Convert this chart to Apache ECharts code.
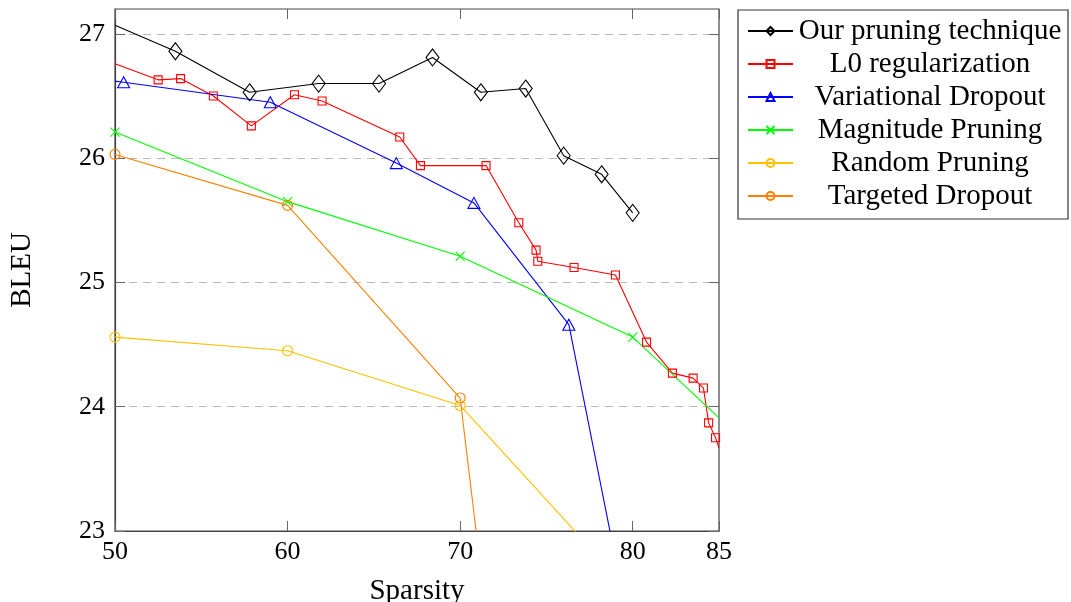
<!DOCTYPE html>
<html>
<head>
<meta charset="utf-8">
<script src="https://cdn.jsdelivr.net/npm/echarts@6/dist/echarts.min.js"></script>
<style>
  html, body { margin: 0; padding: 0; background: #fff; }
  #chart { width: 1071px; height: 602px; }
</style>
</head>
<body>
<div id="chart"></div>
<script>
// values (sparsity in %, BLEU)
const ourX = [50, 53.5, 57.8, 61.8, 65.3, 68.4, 71.2, 73.8, 76.0, 78.2, 80.0];
const ourY = [27.07, 26.86, 26.53, 26.60, 26.60, 26.81, 26.53, 26.56, 26.02, 25.87, 25.56];

const l0X = [50, 52.5, 53.8, 55.7, 57.9, 60.4, 62.0, 66.5, 67.7, 71.5, 73.4, 74.4, 74.5, 76.6, 79.0, 80.8, 82.3, 83.5, 84.1, 84.4, 84.8, 85];
const l0Y = [26.76, 26.63, 26.64, 26.50, 26.26, 26.51, 26.46, 26.17, 25.94, 25.94, 25.48, 25.26, 25.17, 25.12, 25.06, 24.52, 24.27, 24.23, 24.15, 23.87, 23.75, 23.67];

const vdX = [50, 50.5, 59.0, 66.3, 70.8, 76.3, 80];
const vdY = [26.62, 26.61, 26.45, 25.96, 25.64, 24.66, 22.08];

const magX = [50, 60, 70, 80, 85];
const magY = [26.21, 25.65, 25.21, 24.56, 23.91];

const randX = [50, 60, 70, 80];
const randY = [24.56, 24.45, 24.01, 22.49];

const tdX = [50, 60, 70, 80];
const tdY = [26.03, 25.62, 24.07, 12.5];

const xTicks = [50, 60, 70, 80, 85];
const yTicks = [23, 24, 25, 26, 27];

const FONT = '"Liberation Serif", "DejaVu Serif", serif';

// points where a line only enters / leaves the frame get no marker
function pairs(xs, ys, openLeft) {
  return xs.map((x, i) => {
    const y = ys[i];
    const edge = x >= 85 || y < 23 || (openLeft && x <= 50);
    return edge ? { value: [x, y], symbol: 'none' } : [x, y];
  });
}

function lineSeries(name, xs, ys, color, sym, size, openLeft) {
  return {
    name: name,
    type: 'line',
    data: pairs(xs, ys, openLeft),
    clip: true,
    symbol: sym,
    symbolSize: size,
    showAllSymbol: true,
    lineStyle: { color: color, width: 1.1 },
    itemStyle: { color: 'rgba(0,0,0,0)', borderColor: color, borderWidth: 1.1 },
    emphasis: { disabled: true },
    animation: false
  };
}

const cross = 'path://M0,0L10,10M10,0L0,10';

const chart = echarts.init(document.getElementById('chart'), null, { renderer: 'canvas' });

chart.setOption({
  animation: false,
  textStyle: { fontFamily: FONT },
  grid: {
    left: 115, top: 9, width: 604, height: 522,
    outerBoundsMode: 'none',
    show: true, borderColor: '#444', borderWidth: 1.2, backgroundColor: 'transparent'
  },
  legend: {
    orient: 'vertical',
    left: 738, top: 10,
    padding: [6, 6, 8, 9],
    borderColor: '#333', borderWidth: 1.2,
    itemWidth: 45, itemHeight: 10, itemGap: 3,
    data: ['Our pruning technique', 'L0 regularization', 'Variational Dropout',
           'Magnitude Pruning', 'Random Pruning', 'Targeted Dropout'],
    formatter: function (n) { return '{t|' + n + '}'; },
    textStyle: {
      fontFamily: FONT, fontSize: 29, color: '#000', lineHeight: 30,
      rich: { t: { width: 264, align: 'center', lineHeight: 30, fontFamily: FONT, fontSize: 29 } }
    }
  },
  xAxis: [{
    type: 'value', min: 50, max: 85, interval: 10,
    name: 'Sparsity', nameLocation: 'middle', nameGap: 46,
    nameTextStyle: { fontFamily: FONT, fontSize: 29, color: '#000' },
    axisLine: { show: true, onZero: false, lineStyle: { color: '#444', width: 1.2 } },
    axisTick: { show: true, inside: true, length: 10, customValues: xTicks, lineStyle: { color: '#666' } },
    axisLabel: { customValues: xTicks, fontFamily: FONT, fontSize: 26, color: '#000', margin: 8 },
    splitLine: { show: false }
  }, {
    type: 'value', min: 50, max: 85, position: 'top',
    axisLine: { show: false },
    axisTick: { show: true, inside: true, length: 10, customValues: xTicks, lineStyle: { color: '#666' } },
    axisLabel: { show: false },
    splitLine: { show: false }
  }],
  yAxis: [{
    type: 'value', min: 23, max: 27.2, interval: 1,
    name: 'BLEU', nameLocation: 'middle', nameGap: 78,
    nameTextStyle: { fontFamily: FONT, fontSize: 29, color: '#000' },
    axisLine: { show: true, onZero: false, lineStyle: { color: '#444', width: 1.2 } },
    axisTick: { show: true, inside: true, length: 10, customValues: yTicks, lineStyle: { color: '#666' } },
    axisLabel: { customValues: yTicks, fontFamily: FONT, fontSize: 26, color: '#000', margin: 10 },
    splitLine: { show: true, lineStyle: { color: '#bbb', type: [8, 6], width: 1.2 } }
  }, {
    type: 'value', min: 23, max: 27.2, interval: 1, position: 'right',
    axisLine: { show: false },
    axisTick: { show: true, inside: true, length: 10, customValues: yTicks, lineStyle: { color: '#666' } },
    axisLabel: { show: false },
    splitLine: { show: false }
  }],
  series: [
    lineSeries('Our pruning technique', ourX, ourY, '#000000', 'diamond', [13, 17], true),
    lineSeries('L0 regularization', l0X, l0Y, '#ff0000', 'rect', 8, true),
    lineSeries('Variational Dropout', vdX, vdY, '#0000ff', 'triangle', [12, 11], true),
    lineSeries('Magnitude Pruning', magX, magY, '#00ff00', cross, 9, false),
    lineSeries('Random Pruning', randX, randY, '#ffc000', 'circle', 10, false),
    lineSeries('Targeted Dropout', tdX, tdY, '#ff8000', 'circle', 10, false)
  ]
});
</script>
</body>
</html>
